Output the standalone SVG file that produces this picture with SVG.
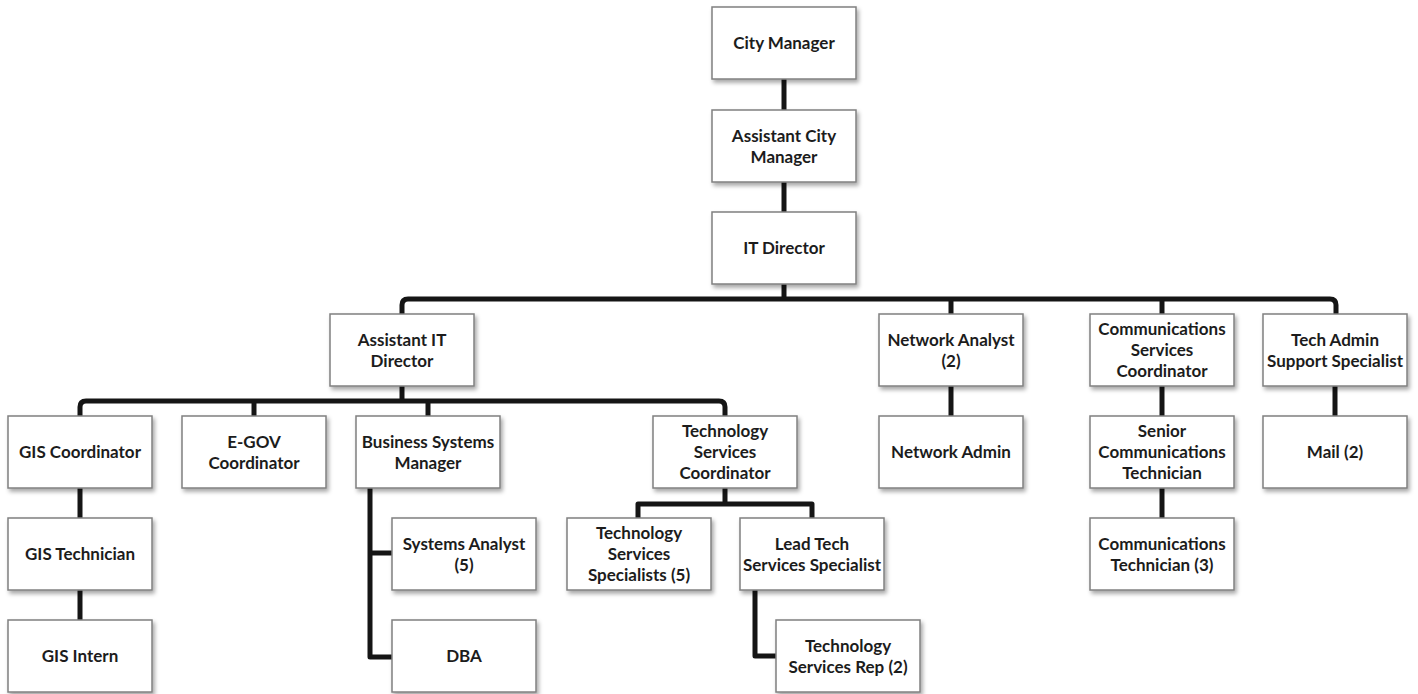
<svg xmlns="http://www.w3.org/2000/svg" width="1418" height="694" viewBox="0 0 1418 694">
  <defs>
    <filter id="shadow" x="-10%" y="-10%" width="125%" height="130%">
      <feDropShadow dx="2" dy="3" stdDeviation="2" flood-color="#000" flood-opacity="0.35"/>
    </filter>
    <style>
      .box { fill: #ffffff; stroke: #808080; stroke-width: 1.5; filter: url(#shadow); }
      .label { font-family: Lato, "Open Sans", "Liberation Sans", sans-serif; font-weight: 700; font-size: 17px; fill: #1c1c1c; text-anchor: middle; }
      .link { fill: none; stroke: #151515; stroke-width: 5; stroke-linejoin: round; stroke-linecap: butt; }
    </style>
  </defs>
  <rect width="1418" height="694" fill="#ffffff"/>

  <!-- reporting lines -->
  <g id="connectors">
    <path class="link" d="M784 79 V110"/>
    <path class="link" d="M784 182 V212"/>
    <path class="link" d="M784 284 V299"/>
    <path class="link" d="M402 314 V305 Q402 299 408 299 H1330 Q1336 299 1336 305 V314"/>
    <path class="link" d="M951 299 V314"/>
    <path class="link" d="M1162 299 V314"/>
    <path class="link" d="M402 386 V401"/>
    <path class="link" d="M80 416 V407 Q80 401 86 401 H719 Q725 401 725 407 V416"/>
    <path class="link" d="M254 401 V416"/>
    <path class="link" d="M428 401 V416"/>
    <path class="link" d="M80 488 V518"/>
    <path class="link" d="M80 590 V620"/>
    <path class="link" d="M370 488 V657 H392"/>
    <path class="link" d="M370 553 H392"/>
    <path class="link" d="M725 488 V504"/>
    <path class="link" d="M638 518 V504 H812 V518"/>
    <path class="link" d="M755 590 V656 H776"/>
    <path class="link" d="M951 386 V416"/>
    <path class="link" d="M1162 386 V416"/>
    <path class="link" d="M1162 488 V518"/>
    <path class="link" d="M1335 386 V416"/>
  </g>

  <g id="city-manager">
    <rect class="box" x="712" y="7" width="144" height="72"/>
    <text class="label" x="784" y="49">City Manager</text>
  </g>
  <g id="assistant-city-manager">
    <rect class="box" x="712" y="110" width="144" height="72"/>
    <text class="label" x="784" y="142">Assistant City</text>
    <text class="label" x="784" y="163">Manager</text>
  </g>
  <g id="it-director">
    <rect class="box" x="712" y="212" width="144" height="72"/>
    <text class="label" x="784" y="254">IT Director</text>
  </g>

  <g id="assistant-it-director">
    <rect class="box" x="330" y="314" width="144" height="72"/>
    <text class="label" x="402" y="346">Assistant IT</text>
    <text class="label" x="402" y="367">Director</text>
  </g>
  <g id="network-analyst">
    <rect class="box" x="879" y="314" width="144" height="72"/>
    <text class="label" x="951" y="346">Network Analyst</text>
    <text class="label" x="951" y="367">(2)</text>
  </g>
  <g id="communications-services-coordinator">
    <rect class="box" x="1090" y="314" width="144" height="72"/>
    <text class="label" x="1162" y="335">Communications</text>
    <text class="label" x="1162" y="356">Services</text>
    <text class="label" x="1162" y="377">Coordinator</text>
  </g>
  <g id="tech-admin-support-specialist">
    <rect class="box" x="1263" y="314" width="144" height="72"/>
    <text class="label" x="1335" y="346">Tech Admin</text>
    <text class="label" x="1335" y="367">Support Specialist</text>
  </g>

  <g id="gis-coordinator">
    <rect class="box" x="8" y="416" width="144" height="72"/>
    <text class="label" x="80" y="458">GIS Coordinator</text>
  </g>
  <g id="e-gov-coordinator">
    <rect class="box" x="182" y="416" width="144" height="72"/>
    <text class="label" x="254" y="448">E-GOV</text>
    <text class="label" x="254" y="469">Coordinator</text>
  </g>
  <g id="business-systems-manager">
    <rect class="box" x="356" y="416" width="144" height="72"/>
    <text class="label" x="428" y="448">Business Systems</text>
    <text class="label" x="428" y="469">Manager</text>
  </g>
  <g id="technology-services-coordinator">
    <rect class="box" x="653" y="416" width="144" height="72"/>
    <text class="label" x="725" y="437">Technology</text>
    <text class="label" x="725" y="458">Services</text>
    <text class="label" x="725" y="479">Coordinator</text>
  </g>
  <g id="network-admin">
    <rect class="box" x="879" y="416" width="144" height="72"/>
    <text class="label" x="951" y="458">Network Admin</text>
  </g>
  <g id="senior-communications-technician">
    <rect class="box" x="1090" y="416" width="144" height="72"/>
    <text class="label" x="1162" y="437">Senior</text>
    <text class="label" x="1162" y="458">Communications</text>
    <text class="label" x="1162" y="479">Technician</text>
  </g>
  <g id="mail">
    <rect class="box" x="1263" y="416" width="144" height="72"/>
    <text class="label" x="1335" y="458">Mail (2)</text>
  </g>

  <g id="gis-technician">
    <rect class="box" x="8" y="518" width="144" height="72"/>
    <text class="label" x="80" y="560">GIS Technician</text>
  </g>
  <g id="systems-analyst">
    <rect class="box" x="392" y="518" width="144" height="72"/>
    <text class="label" x="464" y="550">Systems Analyst</text>
    <text class="label" x="464" y="571">(5)</text>
  </g>
  <g id="technology-services-specialists">
    <rect class="box" x="567" y="518" width="144" height="72"/>
    <text class="label" x="639" y="539">Technology</text>
    <text class="label" x="639" y="560">Services</text>
    <text class="label" x="639" y="581">Specialists (5)</text>
  </g>
  <g id="lead-tech-services-specialist">
    <rect class="box" x="740" y="518" width="144" height="72"/>
    <text class="label" x="812" y="550">Lead Tech</text>
    <text class="label" x="812" y="571">Services Specialist</text>
  </g>
  <g id="communications-technician">
    <rect class="box" x="1090" y="518" width="144" height="72"/>
    <text class="label" x="1162" y="550">Communications</text>
    <text class="label" x="1162" y="571">Technician (3)</text>
  </g>

  <g id="gis-intern">
    <rect class="box" x="8" y="620" width="144" height="72"/>
    <text class="label" x="80" y="662">GIS Intern</text>
  </g>
  <g id="dba">
    <rect class="box" x="392" y="620" width="144" height="72"/>
    <text class="label" x="464" y="662">DBA</text>
  </g>
  <g id="technology-services-rep">
    <rect class="box" x="776" y="620" width="144" height="72"/>
    <text class="label" x="848" y="652">Technology</text>
    <text class="label" x="848" y="673">Services Rep (2)</text>
  </g>
</svg>
